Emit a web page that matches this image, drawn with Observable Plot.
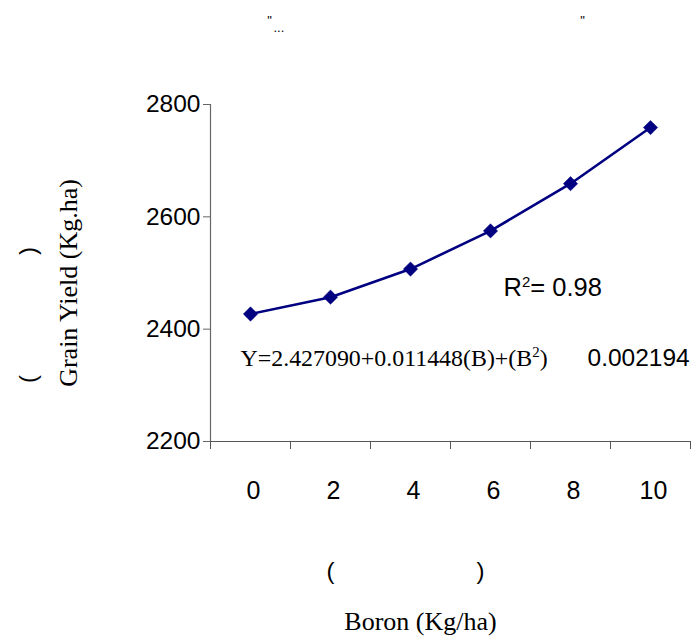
<!DOCTYPE html>
<html><head><meta charset="utf-8">
<script src="https://cdn.jsdelivr.net/npm/d3@7"></script>
<script src="https://cdn.jsdelivr.net/npm/@observablehq/plot@0.6"></script>
<style>body{margin:0;background:#fff} svg{display:block}</style>
</head><body><div id="chart"></div>
<script>
const boron = [0, 2, 4, 6, 8, 10];
const grainYield = [2427, 2457, 2507, 2575, 2659, 2759];
const yTicks = [2200, 2400, 2600, 2800];
const xTickLabels = ["0", "2", "4", "6", "8", "10"];
const r2Label = "R\u00B2= 0.98";
const equationLabel = "Y=2.427090+0.011448(B)+(B\u00B2)";
const coefLabel = "0.002194";
const yLabel = "Grain Yield (Kg.ha)";
const xLabel = "Boron (Kg/ha)";

const data = boron.map((b, i) => ({boron: b, yield: grainYield[i]}));
const bounds = d3.range(boron[0] - 1, boron[boron.length - 1] + 2, 2);

const ARIAL = "Liberation Sans, Arial, sans-serif";
const TIMES = "Liberation Serif, Times New Roman, serif";
const NAVY = "#000080";

const chart = Plot.plot({
  width: 692,
  height: 641,
  marginLeft: 210,
  marginRight: 2,
  marginTop: 104,
  marginBottom: 200,
  x: {type: "linear", domain: [bounds[0], bounds[bounds.length - 1]]},
  y: {type: "linear", domain: [yTicks[0], yTicks[yTicks.length - 1]]},
  style: {background: "#fff", color: "#000", overflow: "visible"},
  marks: [
    Plot.ruleX([bounds[0]], {stroke: "#666", strokeWidth: 1.2}),
    Plot.ruleY([yTicks[0]], {stroke: "#555", strokeWidth: 1.2}),
    Plot.axisY(yTicks, {tickSize: 7, tickPadding: 3, fontSize: 24.5, fontFamily: ARIAL, stroke: "#666", strokeOpacity: 1, fill: "#000", tickFormat: (d) => String(d), label: null}),
    Plot.axisX(bounds, {anchor: "bottom", tickSize: 8, stroke: "#555", strokeOpacity: 1, tickFormat: () => "", label: null}),
    Plot.axisX(boron, {anchor: "bottom", tickSize: 0, tickPadding: 40, dx: 3, fontSize: 25, fontFamily: ARIAL, fill: "#000", tickFormat: (d) => xTickLabels[boron.indexOf(d)], label: null}),
    Plot.line(data, {x: "boron", y: "yield", stroke: NAVY, strokeWidth: 2.6}),
    Plot.dot(data, {x: "boron", y: "yield", symbol: "square", rotate: 45, r: 5.7, fill: NAVY, stroke: NAVY, strokeWidth: 0.5}),
    Plot.text([r2Label], {x: 6.325, y: 2474, textAnchor: "start", fontSize: 25.5, fontFamily: ARIAL, fill: "#000"}),
    Plot.text([equationLabel], {x: -0.25, y: 2348, textAnchor: "start", fontSize: 23.9, fontFamily: TIMES, fill: "#000"}),
    Plot.text([coefLabel], {x: 8.425, y: 2348, textAnchor: "start", fontSize: 24.5, fontFamily: ARIAL, fill: "#000"}),
    Plot.text([yLabel], {frameAnchor: "left", textAnchor: "middle", dx: -142, dy: 10, rotate: -90, fontSize: 26, fontFamily: TIMES, fill: "#000"}),
    Plot.text([")"], {frameAnchor: "left", textAnchor: "middle", dx: -182, dy: -22, rotate: -90, fontSize: 24, fontFamily: ARIAL, fill: "#000"}),
    Plot.text(["("], {frameAnchor: "left", textAnchor: "middle", dx: -182, dy: 106, rotate: -90, fontSize: 24, fontFamily: ARIAL, fill: "#000"}),
    Plot.text(["("], {frameAnchor: "bottom-left", textAnchor: "middle", dx: 120, dy: 137, fontSize: 24, fontFamily: ARIAL, fill: "#000"}),
    Plot.text([")"], {frameAnchor: "bottom-left", textAnchor: "middle", dx: 270, dy: 137, fontSize: 24, fontFamily: ARIAL, fill: "#000"}),
    Plot.text([xLabel], {frameAnchor: "bottom", dx: -30, dy: 188, fontSize: 26, fontFamily: TIMES, fill: "#000"}),
    Plot.text(["\""], {frameAnchor: "top-left", textAnchor: "middle", dx: 59, dy: -89, fontSize: 13, fontFamily: ARIAL, fill: "#000"}),
    Plot.text(["..."], {frameAnchor: "top-left", textAnchor: "start", dx: 63, dy: -82, fontSize: 13, fontFamily: ARIAL, fill: "#000"}),
    Plot.text(["\""], {frameAnchor: "top-left", textAnchor: "middle", dx: 372, dy: -89, fontSize: 13, fontFamily: ARIAL, fill: "#000"})
  ]
});

// render "²" as a real superscript (smaller, raised) like the original
chart.querySelectorAll("text").forEach((el) => {
  const s = el.textContent;
  if (!s.includes("\u00B2")) return;
  const fs = parseFloat(getComputedStyle(el).fontSize) || 24;
  const raise = Math.round(fs * 0.36);
  const parts = s.split("\u00B2");
  el.textContent = "";
  const ns = "http://www.w3.org/2000/svg";
  parts.forEach((p, i) => {
    if (i > 0) {
      const sup = document.createElementNS(ns, "tspan");
      sup.textContent = "2";
      sup.setAttribute("font-size", (fs * 0.62).toFixed(1));
      sup.setAttribute("dy", -raise);
      el.appendChild(sup);
    }
    if (p) {
      const t = document.createElementNS(ns, "tspan");
      t.textContent = p;
      if (i > 0) t.setAttribute("dy", raise);
      el.appendChild(t);
    }
  });
});
document.getElementById("chart").append(chart);
</script>
</body></html>
